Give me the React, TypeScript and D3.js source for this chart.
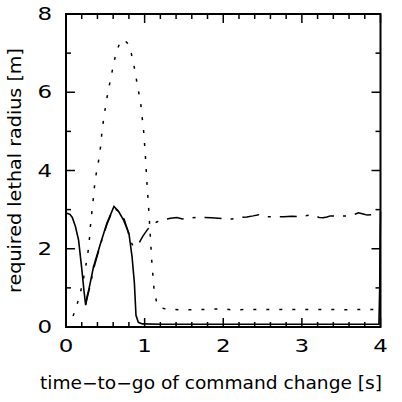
import React from "react";
import * as d3 from "d3";

const xTicksMajor = [0, 1, 2, 3, 4];
const yTicksMajor = [0, 2, 4, 6, 8];
const xTitle = "time\u2212to\u2212go of command change [s]";
const yTitle = "required lethal radius [m]";

const solidSeries: [number, number][] = [
  [0.01, 2.91], [0.05, 2.88], [0.08, 2.8], [0.12, 2.57], [0.16, 2.22], [0.2, 1.5], [0.23, 0.9],
  [0.25, 0.56], [0.27, 0.8], [0.29, 0.95], [0.35, 1.54], [0.44, 2.14], [0.52, 2.65], [0.61, 3.08],
  [0.67, 2.95], [0.73, 2.74], [0.8, 2.4], [0.84, 1.8], [0.87, 1.12], [0.89, 0.3], [0.92, 0.12],
  [0.97, 0.08], [1.2, 0.07], [2.0, 0.07], [3.0, 0.07], [3.98, 0.07], [3.99, 1.0], [3.995, 2.2], [4.0, 2.95],
];

const dashedSeries: [number, number][] = [
  [0.25, 0.58], [0.3, 1.0], [0.36, 1.55], [0.44, 2.12], [0.52, 2.62], [0.6, 3.02], [0.64, 3.0],
  [0.69, 2.92], [0.74, 2.75], [0.78, 2.5], [0.82, 2.2], [0.85, 2.08], [0.88, 2.05], [0.93, 2.15],
  [0.98, 2.33], [1.04, 2.5], [1.1, 2.63], [1.16, 2.69], [1.25, 2.75], [1.33, 2.78], [1.41, 2.8],
  [1.48, 2.76], [1.54, 2.78], [1.65, 2.8], [1.75, 2.8], [1.85, 2.79], [1.94, 2.78], [2.03, 2.77],
  [2.11, 2.76], [2.22, 2.8], [2.3, 2.81], [2.38, 2.84], [2.45, 2.87], [2.5, 2.83], [2.56, 2.82],
  [2.66, 2.81], [2.77, 2.82], [2.87, 2.83], [2.96, 2.82], [3.04, 2.84], [3.1, 2.86], [3.15, 2.85],
  [3.22, 2.8], [3.27, 2.79], [3.32, 2.81], [3.36, 2.84], [3.43, 2.84], [3.49, 2.84], [3.58, 2.84],
  [3.66, 2.87], [3.72, 2.92], [3.78, 2.89], [3.83, 2.86], [3.88, 2.87], [3.93, 2.88], [4.0, 2.9],
];

const dottedSeries: [number, number][] = [
  [0.09, 0.28], [0.13, 0.5], [0.17, 0.78], [0.21, 1.1], [0.25, 1.54], [0.29, 2.05], [0.31, 2.57],
  [0.35, 3.33], [0.37, 3.76], [0.41, 4.19], [0.44, 4.61], [0.46, 5.04], [0.49, 5.47], [0.52, 5.85],
  [0.56, 6.27], [0.6, 6.66], [0.64, 7.04], [0.7, 7.33], [0.74, 7.33], [0.78, 7.26], [0.83, 7.0],
  [0.88, 6.53], [0.9, 6.27], [0.95, 5.72], [0.99, 4.95], [1.01, 4.36], [1.03, 3.67], [1.05, 3.08],
  [1.07, 2.4], [1.09, 1.71], [1.12, 0.95], [1.16, 0.56], [1.22, 0.48], [1.3, 0.45], [1.5, 0.44],
  [1.8, 0.45], [2.0, 0.47], [2.1, 0.44], [2.4, 0.45], [2.7, 0.45], [3.0, 0.45], [3.3, 0.45],
  [3.6, 0.44], [3.8, 0.45], [3.93, 0.45],
];

const W = 402, H = 402;
const left = 66, right = 380.5, top = 14, bottom = 327;

export default function App() {
  const x = d3.scaleLinear().domain([0, 4]).range([left, right]);
  const y = d3.scaleLinear().domain([0, 8]).range([bottom, top]);
  const line = d3.line<[number, number]>().x(d => x(d[0])).y(d => y(d[1]));
  const xMinor = d3.range(0, 4.001, 0.2);
  const yMinor = d3.range(0, 8.001, 1);
  const isMajorX = (v: number) => Math.abs(v - Math.round(v)) < 1e-6;
  const isMajorY = (v: number) => Math.round(v) % 2 === 0;
  const font = "'DejaVu Sans', sans-serif";
  return (
    <svg width={W} height={H} style={{ position: "absolute", left: 0, top: 0, background: "#fff" }}>
      <rect x={0} y={0} width={W} height={H} fill="#fff" />
      <path d={line(dottedSeries) || ""} fill="none" stroke="#000" strokeWidth={1.5} strokeDasharray="3,10" />
      <path d={line(dashedSeries) || ""} fill="none" stroke="#000" strokeWidth={1.5} strokeDasharray="17,9,3,9" />
      <path d={line(solidSeries) || ""} fill="none" stroke="#000" strokeWidth={1.6} />
      {xMinor.map((v, i) => {
        const L = isMajorX(v) ? 9 : 5;
        return (
          <g key={"xt" + i} stroke="#000" strokeWidth={1.5}>
            <line x1={x(v)} x2={x(v)} y1={bottom} y2={bottom - L} />
            <line x1={x(v)} x2={x(v)} y1={top} y2={top + L} />
          </g>
        );
      })}
      {yMinor.map((v, i) => {
        const L = isMajorY(v) ? 9 : 5;
        return (
          <g key={"yt" + i} stroke="#000" strokeWidth={1.5}>
            <line x1={left} x2={left + L} y1={y(v)} y2={y(v)} />
            <line x1={right} x2={right - L} y1={y(v)} y2={y(v)} />
          </g>
        );
      })}
      <rect x={left} y={top} width={right - left} height={bottom - top} fill="none" stroke="#000" strokeWidth={2} />
      {xTicksMajor.map(v => (
        <text key={"xl" + v} transform={`translate(${x(v)},352) scale(1.35,1)`} textAnchor="middle"
          fontFamily={font} fontSize={17}>{v}</text>
      ))}
      {yTicksMajor.map(v => (
        <text key={"yl" + v} transform={`translate(52,${y(v) + 6}) scale(1.35,1)`} textAnchor="end"
          fontFamily={font} fontSize={17}>{v}</text>
      ))}
      <text x={40} y={389} fontFamily={font} fontSize={17} textLength={342} lengthAdjust="spacingAndGlyphs">{xTitle}</text>
      <text transform={`translate(21,293) rotate(-90)`} fontFamily={font} fontSize={17} textLength={245}
        lengthAdjust="spacingAndGlyphs">{yTitle}</text>
    </svg>
  );
}
